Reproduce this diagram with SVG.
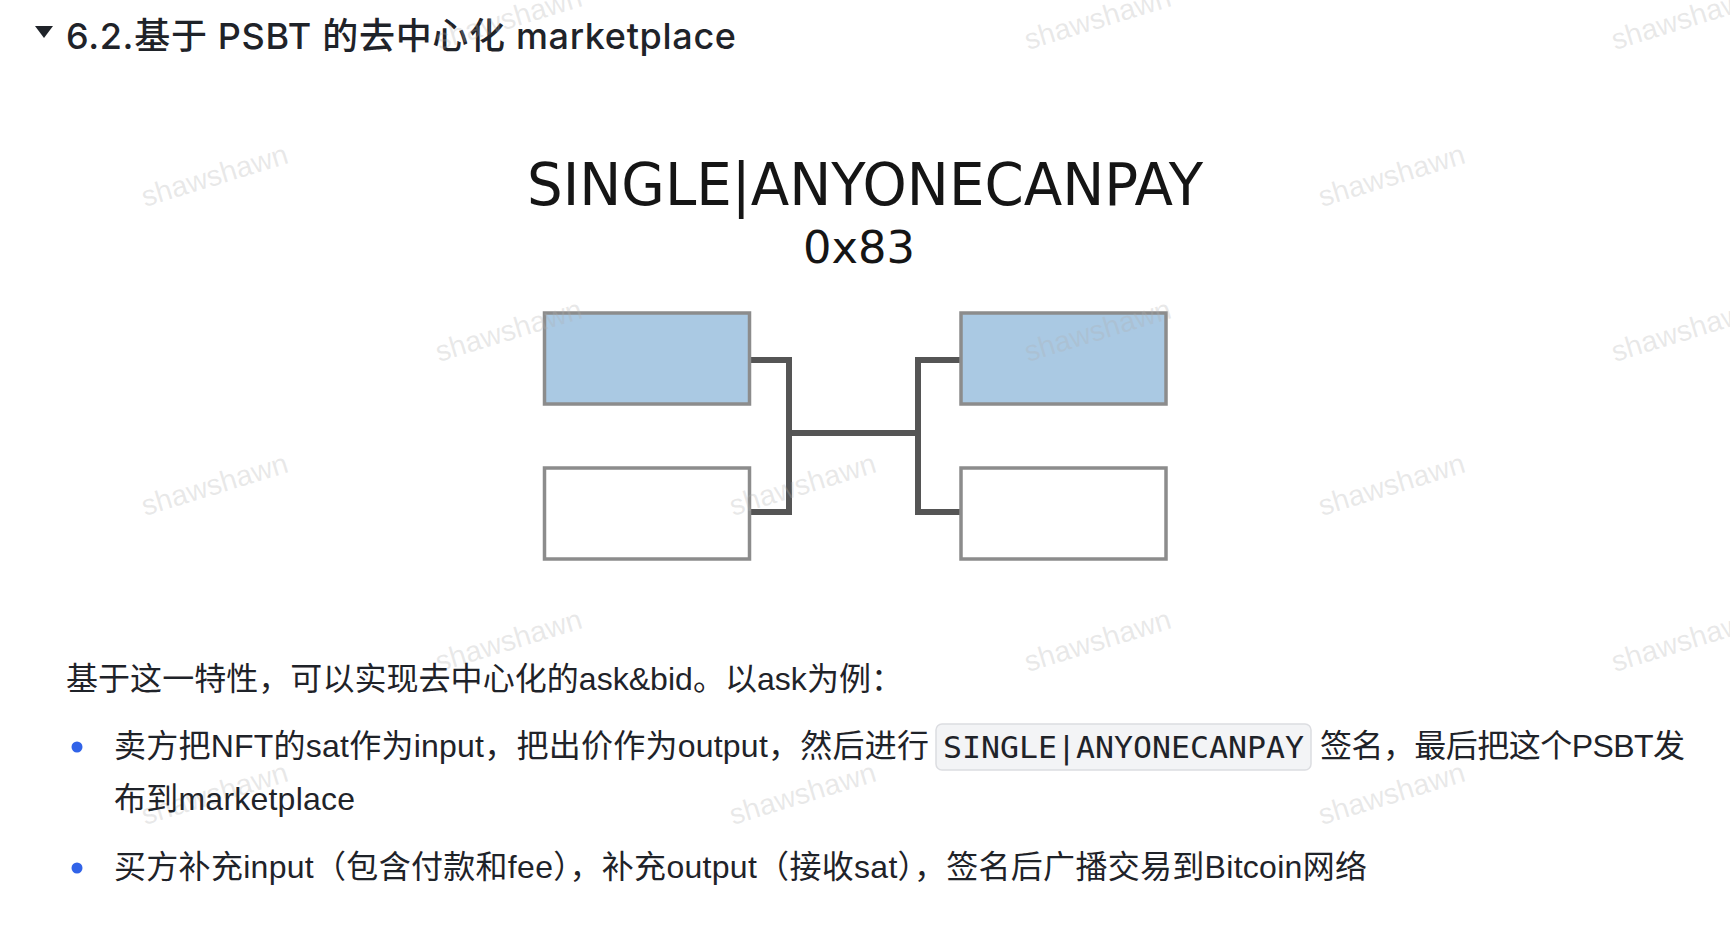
<svg xmlns="http://www.w3.org/2000/svg" width="1730" height="940" viewBox="0 0 1730 940">
<style>
.h{font-family:Inter,"Noto Sans CJK SC",sans-serif;font-size:36px;font-weight:500;fill:#1f2329}
.t{font-family:"Liberation Sans","Noto Sans CJK SC",sans-serif;font-size:32px;fill:#1f2329}
.code{font-family:"DejaVu Sans Mono","Liberation Mono",monospace;font-size:31px;fill:#1f2329}
.dj{font-family:"DejaVu Sans","Liberation Sans",sans-serif;fill:#151515}
.box{stroke:#8c8c8c;stroke-width:3.5}
.blue{fill:#aac9e3}
.white{fill:#ffffff}
.wire{fill:none;stroke:#555555;stroke-width:6;stroke-linejoin:miter}
.wm{font-family:"Liberation Sans",sans-serif;font-size:29px;fill:#b0b0b0;fill-opacity:0.28}
.bullet{fill:#3163e8}
</style>
<rect x="0" y="0" width="1730" height="940" fill="#ffffff"/>

<g id="heading">
<polygon points="35,26 53,26 44,38" fill="#1f2329"/>
<text class="h" x="66" y="49" textLength="670" lengthAdjust="spacing">6.2.基于 PSBT 的去中心化 marketplace</text>
</g>

<g id="diagram-title">
<text class="dj" x="527" y="205" font-size="58" textLength="676" lengthAdjust="spacingAndGlyphs">SINGLE|ANYONECANPAY</text>
<text class="dj" x="803" y="263" font-size="45" textLength="112" lengthAdjust="spacingAndGlyphs">0x83</text>
</g>

<g id="connectors">
<path class="wire" d="M750,360 H789 V512 H750"/>
<path class="wire" d="M789,433 H918"/>
<path class="wire" d="M961,360 H918 V512 H961"/>
</g>

<g id="input-1"><rect class="box blue" x="544.5" y="313" width="205" height="91"/></g>
<g id="input-2"><rect class="box white" x="544.5" y="468" width="205" height="91"/></g>
<g id="output-1"><rect class="box blue" x="961" y="313" width="205" height="91"/></g>
<g id="output-2"><rect class="box white" x="961" y="468" width="205" height="91"/></g>

<g id="watermarks">
<text class="wm" transform="rotate(-17 439 50)" x="439" y="50">shawshawn</text>
<text class="wm" transform="rotate(-17 1028 50)" x="1028" y="50">shawshawn</text>
<text class="wm" transform="rotate(-17 1615 50)" x="1615" y="50">shawshawn</text>
<text class="wm" transform="rotate(-17 145 207)" x="145" y="207">shawshawn</text>
<text class="wm" transform="rotate(-17 1322 207)" x="1322" y="207">shawshawn</text>
<text class="wm" transform="rotate(-17 439 362)" x="439" y="362">shawshawn</text>
<text class="wm" transform="rotate(-17 1028 362)" x="1028" y="362">shawshawn</text>
<text class="wm" transform="rotate(-17 1615 362)" x="1615" y="362">shawshawn</text>
<text class="wm" transform="rotate(-17 145 516)" x="145" y="516">shawshawn</text>
<text class="wm" transform="rotate(-17 733 516)" x="733" y="516">shawshawn</text>
<text class="wm" transform="rotate(-17 1322 516)" x="1322" y="516">shawshawn</text>
<text class="wm" transform="rotate(-17 439 672)" x="439" y="672">shawshawn</text>
<text class="wm" transform="rotate(-17 1028 672)" x="1028" y="672">shawshawn</text>
<text class="wm" transform="rotate(-17 1615 672)" x="1615" y="672">shawshawn</text>
<text class="wm" transform="rotate(-17 145 825)" x="145" y="825">shawshawn</text>
<text class="wm" transform="rotate(-17 733 825)" x="733" y="825">shawshawn</text>
<text class="wm" transform="rotate(-17 1322 825)" x="1322" y="825">shawshawn</text>
</g>

<g id="body">
<text class="t" x="66" y="690" textLength="837" lengthAdjust="spacing">基于这一特性，可以实现去中心化的ask&amp;bid。以ask为例：</text>
<circle class="bullet" cx="77" cy="747" r="5.5"/>
<text class="t" x="114" y="757" textLength="815" lengthAdjust="spacing">卖方把NFT的sat作为input，把出价作为output，然后进行</text>
<rect x="936" y="724" width="375" height="46" rx="6" fill="#f3f4f6" stroke="#dcdde1" stroke-width="1.5"/>
<text class="code" x="943" y="758" textLength="361" lengthAdjust="spacingAndGlyphs">SINGLE|ANYONECANPAY</text>
<text class="t" x="1320" y="757" textLength="365" lengthAdjust="spacing">签名，最后把这个PSBT发</text>
<text class="t" x="114" y="810" textLength="241" lengthAdjust="spacing">布到marketplace</text>
<circle class="bullet" cx="77" cy="868" r="5.5"/>
<text class="t" x="114" y="878" textLength="1253" lengthAdjust="spacing">买方补充input（包含付款和fee），补充output（接收sat），签名后广播交易到Bitcoin网络</text>
</g>
</svg>
